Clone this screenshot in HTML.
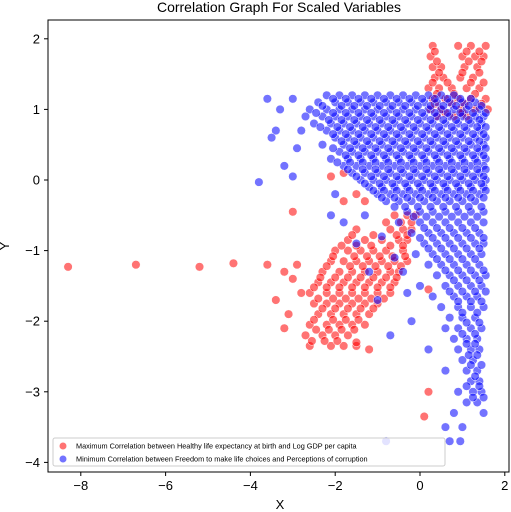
<!DOCTYPE html>
<html><head><meta charset="utf-8"><style>
body{margin:0;background:#fff}
svg{display:block;font-family:"Liberation Sans","DejaVu Sans",sans-serif}
</style></head><body>
<svg id="chart" width="511" height="512">
<text x="279" y="12" text-anchor="middle" font-size="14">Correlation Graph For Scaled Variables</text>
<g id="marks"></g>
<rect x="48" y="20" width="461" height="452" fill="none" stroke="#000" stroke-width="1"/>
<g id="axes"></g>
<text x="280" y="509" text-anchor="middle" font-size="13">X</text>
<text x="9" y="246" text-anchor="middle" font-size="13" transform="rotate(-90 9 246)">Y</text>
<g>
<rect x="53" y="438" width="392" height="28" fill="#fff" fill-opacity="0.8" stroke="#ccc" rx="2"/>
<circle cx="63" cy="446" r="3.5" fill="#ff0000" fill-opacity="0.55"/>
<text x="76" y="448.5" font-size="7.3">Maximum Correlation between Healthy life expectancy at birth and Log GDP per capita</text>
<circle cx="63" cy="459" r="3.5" fill="#0000ff" fill-opacity="0.55"/>
<text x="76" y="461.5" font-size="7.3">Minimum Correlation between Freedom to make life choices and Perceptions of corruption</text>
</g>
</svg>
<script>
const xTicks=[-8,-6,-4,-2,0,2];
const yTicks=[2,1,0,-1,-2,-3,-4];
const redRowY=[1.9,1.75,1.6,1.45,1.3,1.15,1.0,0.9,-0.5,-0.7,-0.85,-1.0,-1.15,-1.3,-1.45,-1.6,-1.75,-1.9,-2.05,-2.2,-2.35,
1.82,1.68,1.52,1.38,1.22,1.08,0.95,-0.6,-0.78,-0.93,-1.08,-1.22,-1.38,-1.52,-1.68,-1.82,-1.98,-2.12,-2.28];
const redRowX=[[0.3,0.9,1.2,1.55],[0.25,1.0,1.3,1.5],[0.3,0.5,1.05,1.35],[0.35,0.55,0.95,1.25],[0.2,0.45,0.75,1.1,1.4],[0.3,0.6,0.9,1.2,1.55],[0.25,0.5,0.95,1.3,1.6],[0.4,0.8,1.1],
[-0.6,-0.3,-0.1],[-1.5,-0.7,-0.4,-0.2],[-1.7,-1.3,-0.9,-0.5,-0.3],[-2.0,-1.7,-1.4,-1.1,-0.8,-0.4],[-2.1,-1.8,-1.5,-1.2,-0.9,-0.6,-0.3],[-2.3,-1.9,-1.6,-1.3,-1.0,-0.7,-0.5],[-2.4,-2.1,-1.8,-1.5,-1.2,-0.9,-0.6],[-2.6,-2.2,-1.9,-1.6,-1.3,-1.0,-0.7],[-2.5,-2.2,-1.9,-1.6,-1.3,-1.0],[-2.4,-2.1,-1.8,-1.5,-1.2],[-2.6,-2.2,-1.9,-1.6,-1.3],[-2.7,-2.3,-2.0,-1.7],[-2.6,-2.1,-1.8,-1.5],
[0.35,1.1,1.4],[0.4,1.15,1.45],[0.45,1.0,1.4],[0.3,0.65,1.2,1.5],[0.4,0.8,1.3],[0.35,0.75,1.05,1.45],[0.6,1.0],
[-0.8,-0.45,-0.2],[-1.6,-1.1,-0.55,-0.3],[-1.85,-1.5,-1.15,-0.7,-0.4],[-2.05,-1.55,-1.25,-0.95,-0.65,-0.35],[-2.2,-1.65,-1.35,-1.05,-0.75,-0.45],[-2.35,-2.0,-1.7,-1.4,-1.1,-0.8,-0.55],[-2.5,-2.2,-1.9,-1.6,-1.3,-1.0,-0.7],[-2.4,-2.05,-1.75,-1.45,-1.15,-0.85],[-2.3,-2.0,-1.7,-1.4,-1.1],[-2.5,-2.05,-1.75,-1.45],[-2.45,-2.15,-1.85,-1.55],[-2.55,-2.25,-1.95]];
const redExtraX=[-8.3,-6.7,-5.2,-4.4,-3.6,-3.2,-3.0,-3.4,-3.1,-3.2,-2.8,-2.9,-3.0,-2.1,-1.8,-1.5,-1.3,-1.8,0.2,0.1,0.2,-1.2,-1.5];
const redExtraY=[-1.23,-1.2,-1.23,-1.18,-1.2,-1.3,-1.4,-1.7,-1.9,-2.1,-1.6,-1.2,-0.45,0.05,0.1,-0.2,-0.3,-0.3,-3.0,-3.35,-1.55,-2.4,-2.3];
const blueRowY=[1.2,1.1,1.0,0.9,0.8,0.7,0.6,0.5,0.4,0.3,0.2,0.1,0.0,-0.1,-0.2,-0.3,-0.45,-0.6,-0.75,-0.9,-1.05,-1.2,-1.35,-1.5,-1.65,-1.8,-1.95,-2.1,-2.25,-2.4,-2.55,-2.7,-2.85,-3.0,-3.15,-3.3,-3.5,-3.7,
1.15,1.05,0.95,0.85,0.75,0.65,0.55,0.45,0.35,0.25,0.15,0.05,-0.05,-0.15,-0.25,-0.38,-0.52,
-0.68,-0.82,-0.97,-1.12,-1.28,-1.42,-1.58,-1.72,-1.88,-2.02,-2.18,-2.32,-2.48,-2.62,-2.78,-2.92,-3.08];
const blueRowX=[[-2.2,-1.9,-1.6,-1.3,-1.0,-0.7,-0.4,-0.1,0.2,0.5,0.8],[-2.4,-2.0,-1.7,-1.4,-1.1,-0.8,-0.5,-0.2,0.1,0.4,0.7,1.0,1.3],[-2.6,-2.2,-1.9,-1.6,-1.3,-1.0,-0.7,-0.4,-0.1,0.2,0.5,0.8,1.1,1.4],[-2.3,-2.0,-1.7,-1.4,-1.1,-0.8,-0.5,-0.2,0.1,0.4,0.7,1.0,1.3,1.5],[-2.5,-2.1,-1.8,-1.5,-1.2,-0.9,-0.6,-0.3,0.0,0.3,0.6,0.9,1.2,1.45],[-2.2,-1.9,-1.6,-1.3,-1.0,-0.7,-0.4,-0.1,0.2,0.5,0.8,1.1,1.4],[-2.0,-1.7,-1.4,-1.1,-0.8,-0.5,-0.2,0.1,0.4,0.7,1.0,1.3,1.55],[-2.3,-1.8,-1.5,-1.2,-0.9,-0.6,-0.3,0.0,0.3,0.6,0.9,1.2,1.5],[-1.9,-1.6,-1.3,-1.0,-0.7,-0.4,-0.1,0.2,0.5,0.8,1.1,1.4],[-2.1,-1.7,-1.4,-1.1,-0.8,-0.5,-0.2,0.1,0.4,0.7,1.0,1.3,1.55],[-1.8,-1.5,-1.2,-0.9,-0.6,-0.3,0.0,0.3,0.6,0.9,1.2,1.5],[-1.6,-1.3,-1.0,-0.7,-0.4,-0.1,0.2,0.5,0.8,1.1,1.4],[-1.4,-1.1,-0.8,-0.5,-0.2,0.1,0.4,0.7,1.0,1.3,1.55],[-1.2,-0.9,-0.6,-0.3,0.0,0.3,0.6,0.9,1.2,1.5],[-1.0,-0.7,-0.4,-0.1,0.2,0.5,0.8,1.1,1.4],[-0.8,-0.5,-0.2,0.1,0.4,0.7,1.0,1.3],[-0.3,0.0,0.3,0.6,0.9,1.2,1.5],
[0.0,0.3,0.6,0.9,1.2,1.5],[-0.2,0.2,0.5,0.8,1.1,1.4],[0.1,0.4,0.7,1.0,1.3,1.5],[-0.1,0.3,0.6,0.9,1.2,1.45],[0.2,0.5,0.8,1.1,1.4],[0.4,0.7,1.0,1.3,1.55],[0.0,0.6,0.9,1.2,1.45],[0.3,0.8,1.1,1.35],[0.5,0.9,1.2,1.5],[0.7,1.0,1.3],[0.6,0.9,1.2,1.45],[0.8,1.1,1.35],[0.9,1.2,1.4],[1.0,1.25],[0.6,1.1,1.35],[1.2,1.4],[0.9,1.25,1.45],[1.1,1.35],[0.8,1.5],[0.6,1.0],[0.7,0.95],
[-2.05,-1.75,-1.45,-1.15,-0.85,-0.55,-0.25,0.05,0.35,0.65,0.95,1.2],[-2.3,-1.85,-1.55,-1.25,-0.95,-0.65,-0.35,-0.05,0.25,0.55,0.85,1.15,1.45],[-2.45,-2.05,-1.75,-1.45,-1.15,-0.85,-0.55,-0.25,0.05,0.35,0.65,0.95,1.25,1.55],[-2.15,-1.85,-1.55,-1.25,-0.95,-0.65,-0.35,-0.05,0.25,0.55,0.85,1.15,1.4],[-2.35,-1.95,-1.65,-1.35,-1.05,-0.75,-0.45,-0.15,0.15,0.45,0.75,1.05,1.35,1.55],[-2.05,-1.75,-1.45,-1.15,-0.85,-0.55,-0.25,0.05,0.35,0.65,0.95,1.25,1.5],[-1.85,-1.55,-1.25,-0.95,-0.65,-0.35,-0.05,0.25,0.55,0.85,1.15,1.4],[-2.05,-1.65,-1.35,-1.05,-0.75,-0.45,-0.15,0.15,0.45,0.75,1.05,1.35,1.55],[-1.75,-1.45,-1.15,-0.85,-0.55,-0.25,0.05,0.35,0.65,0.95,1.25,1.5],[-1.95,-1.65,-1.35,-1.05,-0.75,-0.45,-0.15,0.15,0.45,0.75,1.05,1.35],[-1.7,-1.35,-1.05,-0.75,-0.45,-0.15,0.15,0.45,0.75,1.05,1.35,1.55],[-1.5,-1.15,-0.85,-0.55,-0.25,0.05,0.35,0.65,0.95,1.25,1.5],[-1.3,-0.95,-0.65,-0.35,-0.05,0.25,0.55,0.85,1.15,1.45],[-1.1,-0.85,-0.55,-0.25,0.05,0.35,0.65,0.95,1.25,1.55],[-0.9,-0.6,-0.3,0.0,0.3,0.6,0.9,1.2,1.5],[-0.6,-0.35,-0.05,0.25,0.55,0.85,1.15,1.45],[-0.15,0.15,0.45,0.75,1.05,1.35],
[0.1,0.4,0.7,1.0,1.3],[0.0,0.3,0.6,0.9,1.2,1.5],[0.2,0.5,0.8,1.1,1.4],[0.4,0.7,1.0,1.3],[0.6,0.9,1.2,1.5],[0.8,1.1,1.4],[0.7,1.0,1.3,1.55],[0.9,1.2,1.45],[1.0,1.35],[1.1,1.4],[1.0,1.3],[1.1,1.3],[1.15,1.35],[1.2,1.45],[1.3],[1.1,1.4],[1.25,1.5]];
const blueExtraX=[-3.6,-3.4,-3.5,-3.2,-3.0,-2.9,-2.7,-3.8,-3.0,-2.8,-3.3,-1.8,-1.5,-1.2,-0.9,-0.6,-0.3,-0.5,-1.0,-0.2,0.2,-0.7,-0.4,-1.3,-2.1,-2.0,-0.8];
const blueExtraY=[1.15,0.7,0.6,0.2,0.05,0.45,0.9,-0.03,1.15,0.7,1.0,-0.6,-0.9,-1.3,-0.8,-1.1,-1.6,-0.6,-1.7,-2.0,-2.4,-2.2,-1.3,-0.5,-0.5,-0.2,-3.7];

const X0=420,XS=42.4,Y0=180,YS=70.6;
const sx=v=>X0+v*XS, sy=v=>Y0-v*YS;
const NS='http://www.w3.org/2000/svg';
const marks=document.getElementById('marks'), axes=document.getElementById('axes');
function dot(x,y,color,name){
  const c=document.createElementNS(NS,'circle');
  c.setAttribute('cx',sx(x));c.setAttribute('cy',sy(y));c.setAttribute('r',4.3);
  c.setAttribute('fill',color);c.setAttribute('fill-opacity',0.55);
  c.setAttribute('stroke','#fff');c.setAttribute('stroke-width',0.5);
  
  
  marks.appendChild(c);
}
redRowY.forEach((y,i)=>redRowX[i].forEach(x=>dot(x,y,'#ff0000','red-point')));
redExtraX.forEach((x,i)=>dot(x,redExtraY[i],'#ff0000','red-point'));
blueRowY.forEach((y,i)=>blueRowX[i].forEach(x=>dot(x,y,'#0000ff','blue-point')));
blueExtraX.forEach((x,i)=>dot(x,blueExtraY[i],'#0000ff','blue-point'));
const fmt=v=>v<0?'\u2212'+Math.abs(v):String(v);
xTicks.forEach(t=>{
  const l=document.createElementNS(NS,'line');
  l.setAttribute('x1',sx(t));l.setAttribute('x2',sx(t));l.setAttribute('y1',472);l.setAttribute('y2',476);l.setAttribute('stroke','#000');
  
  
  axes.appendChild(l);
  const tx=document.createElementNS(NS,'text');
  tx.setAttribute('x',sx(t));tx.setAttribute('y',490);tx.setAttribute('text-anchor','middle');tx.setAttribute('font-size',13);
  tx.textContent=fmt(t);
  
  
  axes.appendChild(tx);
});
yTicks.forEach(t=>{
  const l=document.createElementNS(NS,'line');
  l.setAttribute('x1',44);l.setAttribute('x2',48);l.setAttribute('y1',sy(t));l.setAttribute('y2',sy(t));l.setAttribute('stroke','#000');
  
  
  axes.appendChild(l);
  const tx=document.createElementNS(NS,'text');
  tx.setAttribute('x',40);tx.setAttribute('y',sy(t)+4.5);tx.setAttribute('text-anchor','end');tx.setAttribute('font-size',13);
  tx.textContent=fmt(t);
  
  
  axes.appendChild(tx);
});
</script>
</body></html>
